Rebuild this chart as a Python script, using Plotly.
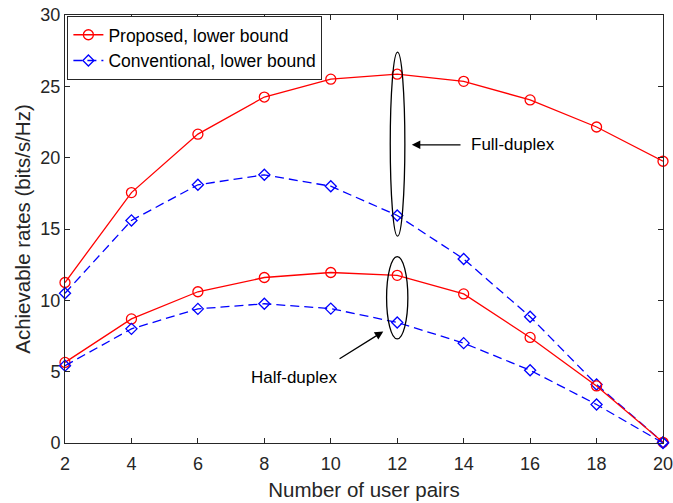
import plotly.graph_objects as go

user_pairs = [2, 4, 6, 8, 10, 12, 14, 16, 18, 20]
proposed_fd = [11.25, 17.55, 21.65, 24.25, 25.5, 25.85, 25.35, 24.05, 22.15, 19.75]
conventional_fd = [10.5, 15.6, 18.1, 18.8, 18.0, 15.95, 12.9, 8.85, 4.1, 0.05]
proposed_hd = [5.65, 8.7, 10.6, 11.6, 11.95, 11.75, 10.45, 7.4, 4.0, 0.05]
conventional_hd = [5.42, 8.0, 9.4, 9.76, 9.42, 8.45, 7.0, 5.1, 2.7, 0.0]

RED = "#ff0000"
BLUE = "#0000ff"
AX = "#262626"
FONT = "Liberation Sans, Arial, sans-serif"

fig = go.Figure()

def add(y, name, color, symbol, size, dash, show):
    fig.add_trace(go.Scatter(
        x=user_pairs, y=y, name=name, mode="lines+markers",
        line=dict(color=color, width=1.3, dash=dash),
        marker=dict(symbol=symbol, size=size,
                    color=color, line=dict(color=color, width=1.3)),
        showlegend=show, cliponaxis=False,
    ))

add(proposed_fd, "Proposed, lower bound", RED, "circle-open", 10, "solid", True)
add(conventional_fd, "Conventional, lower bound", BLUE, "diamond-open", 8.5, "9px,5px", True)
add(proposed_hd, "Proposed HD", RED, "circle-open", 10, "solid", False)
add(conventional_hd, "Conventional HD", BLUE, "diamond-open", 8.5, "9px,5px", False)

# Ellipses
fig.add_shape(type="circle", xref="x", yref="y", x0=11.79, x1=12.23, y0=14.5, y1=27.4,
              line=dict(color="black", width=1.3))
fig.add_shape(type="circle", xref="x", yref="y", x0=11.68, x1=12.32, y0=7.3, y1=13.07,
              line=dict(color="black", width=1.3))

# Arrows
fig.add_annotation(x=12.44, y=20.9, ax=13.95, ay=20.9, xref="x", yref="y", axref="x", ayref="y",
                   text="", showarrow=True, arrowhead=2, arrowsize=1.3, arrowwidth=1.3, arrowcolor="black")
fig.add_annotation(x=11.58, y=7.82, ax=10.22, ay=5.84, xref="x", yref="y", axref="x", ayref="y",
                   text="", showarrow=True, arrowhead=2, arrowsize=1.3, arrowwidth=1.3, arrowcolor="black")
fig.add_annotation(x=14.15, y=20.9, xref="x", yref="y", text="Full-duplex", showarrow=False,
                   xanchor="left", font=dict(family=FONT, size=17, color="black"))
fig.add_annotation(x=8.88, y=4.6, xref="x", yref="y", text="Half-duplex", showarrow=False,
                   font=dict(family=FONT, size=17, color="black"))

axis_common = dict(
    showgrid=False, zeroline=False, showline=True, linecolor=AX, linewidth=1,
    mirror="ticks", ticks="inside", ticklen=5, tickcolor=AX, automargin=False,
    ticklabeloverflow="allow",
    tickfont=dict(family=FONT, size=18, color=AX),
)

fig.update_xaxes(range=[2, 20], tickvals=user_pairs, **axis_common, ticklabelstandoff=4,
                 title=dict(text="Number of user pairs", font=dict(family=FONT, size=20.5, color=AX), standoff=10))
fig.update_yaxes(range=[0, 30], tickvals=[0, 5, 10, 15, 20, 25, 30], **axis_common,
                 title=dict(text="Achievable rates (bits/s/Hz)", font=dict(family=FONT, size=20.5, color=AX), standoff=4))

fig.update_layout(
    width=673, height=503,
    margin=dict(l=65, r=10, t=15, b=60),
    paper_bgcolor="white", plot_bgcolor="white",
    legend=dict(x=0.004, y=0.998, xanchor="left", yanchor="top",
                bgcolor="white", bordercolor=AX, borderwidth=1,
                font=dict(family=FONT, size=17.5, color="black"),
                tracegroupgap=0, itemwidth=30),
)

fig.write_html("out.html", config={"displayModeBar": False},
               post_script="document.body.style.margin='0';document.body.style.overflow='hidden';")
